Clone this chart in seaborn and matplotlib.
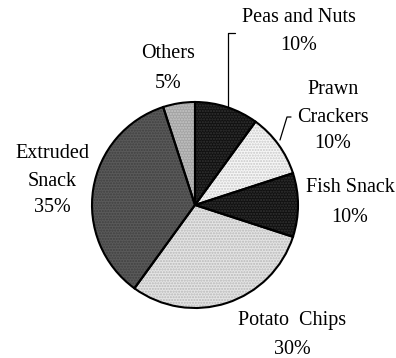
import matplotlib
matplotlib.use("Agg")
import matplotlib.pyplot as plt
import seaborn as sns

categories = ["Peas and Nuts", "Prawn Crackers", "Fish Snack", "Potato Chips", "Extruded Snack", "Others"]
shares = [10, 10, 10, 30, 35, 5]
label_lines = [["Peas and Nuts", "10%"], ["Prawn", "Crackers", "10%"], ["Fish Snack", "10%"],
               ["Potato  Chips", "30%"], ["Extruded", "Snack", "35%"], ["Others", "5%"]]

sns.set_theme(style="white")
plt.rcParams['font.family'] = ['Liberation Serif', 'DejaVu Serif']

W, H = 396, 358
fig = plt.figure(figsize=(W / 100, H / 100), dpi=100)
ax = fig.add_axes([0, 0, 1, 1])

face = ["#111111", "#f6f6f6", "#111111", "#e4e4e4", "#5a5a5a", "#a4a4a4"]
dots = ["#333333", "#c8c8c8", "#333333", "#b8b8b8", "#404040", "#c6c6c6"]

cx, cy, r = 195, H - 205, 103
ax.pie(shares, startangle=90, counterclock=False, colors=face,
       center=(cx, cy), radius=r, frame=True,
       wedgeprops=dict(linewidth=0))
hw, _ = ax.pie(shares, startangle=90, counterclock=False, colors=face,
               center=(cx, cy), radius=r, frame=True,
               wedgeprops=dict(linewidth=0))
for w, c in zip(hw, dots):
    w.set_hatch("......")
    w.set_edgecolor(c)
    w.set_facecolor("none")
    w.set_linewidth(0)
ax.pie(shares, startangle=90, counterclock=False, colors=face,
       center=(cx, cy), radius=r, frame=True,
       wedgeprops=dict(edgecolor="black", linewidth=1.5, fill=False))
ax.set_xlim(0, W)
ax.set_ylim(0, H)
ax.set_aspect('equal')
ax.axis('off')

label_x = [299, 333, 350, 292, 52, 168]
label_y = [[17, 46], [90, 117, 144], [188, 217], [321, 350], [154, 181, 208], [54, 83]]
for lines, x, ys in zip(label_lines, label_x, label_y):
    for t, y in zip(lines, ys):
        ax.text(x, H - y, t, ha="center", va="center", fontsize=14.5, color="black")

# leader lines
ax.plot([235, 228, 228], [H - 33, H - 33, H - 107], color="black", lw=0.9)
ax.plot([291, 287, 280], [H - 117, H - 117, H - 140], color="black", lw=0.9)

fig.savefig("out.png", dpi=100)
